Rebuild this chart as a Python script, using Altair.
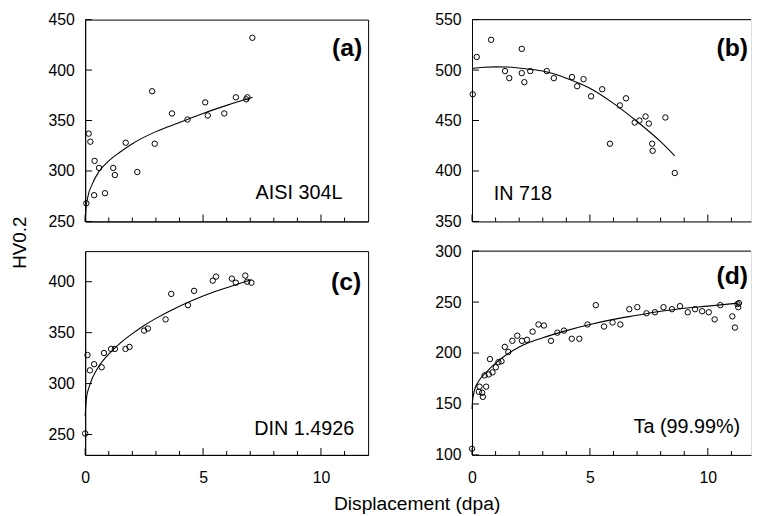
import altair as alt
import pandas as pd

FONT = "Liberation Sans"

# ---------------- data ----------------
# (a) AISI 304L
a_x = [0.05, 0.15, 0.22, 0.38, 0.40, 0.59, 0.84, 1.19, 1.26, 1.72, 2.21, 2.84, 2.95,
       3.68, 4.34, 5.09, 5.20, 5.90, 6.39, 6.83, 6.88, 7.09]
a_y = [268, 337, 329, 276, 310, 303, 278, 303, 296, 328, 299, 379, 327,
       357, 351, 368, 355, 357, 373, 371, 373, 432]
a_fit_x = [0, 0.03, 0.1, 0.3, 0.6, 1, 1.5, 2, 3, 4, 5, 6, 7.1]
a_fit_y = [250, 262, 273, 287, 300, 310, 319, 327, 339, 348, 357, 365, 373]

# (b) IN 718
b_x = [0.03, 0.2, 0.81, 1.4, 1.58, 2.11, 2.11, 2.22, 2.47, 3.17, 3.47, 4.24, 4.46, 4.73,
       5.05, 5.52, 5.85, 6.27, 6.53, 6.9, 7.1, 7.36, 7.5, 7.64, 7.66, 8.2, 8.6]
b_y = [476, 513, 530, 499, 492, 521, 497, 488, 499, 499, 492, 493, 484, 491,
       474, 481, 427, 465, 472, 448, 450, 454, 447, 427, 420, 453, 398]
b_fit_x = [0, 0.5, 1, 1.5, 2, 3, 4, 5, 6, 7, 8, 8.6]
b_fit_y = [501.5, 502.8, 503.2, 503, 502, 499, 492, 482, 467, 449, 429, 415]

# (c) DIN 1.4926
c_x = [0, 0.1, 0.2, 0.38, 0.7, 0.8, 1.1, 1.26, 1.71, 1.88, 2.5, 2.66, 3.41, 3.65,
       4.36, 4.62, 5.41, 5.55, 6.22, 6.39, 6.79, 6.87, 7.05]
c_y = [251, 328, 313, 319, 316, 330, 334, 334, 334, 336, 352, 354, 363, 388,
       377, 391, 401, 405, 403, 399, 406, 400, 399]
c_fit_x = [0, 0.05, 0.2, 0.5, 1, 1.5, 2, 2.5, 3, 4, 5, 6, 7.05]
c_fit_y = [268, 285, 299, 314, 329, 340, 349, 357, 364, 376, 386, 394, 402]

# (d) Ta (99.99%)
d_x = [0, 0.29, 0.32, 0.43, 0.46, 0.6, 0.53, 0.71, 0.76, 0.87,
       1.01, 1.12, 1.25, 1.39, 1.54, 1.71, 1.92, 2.12, 2.33, 2.57,
       2.82, 3.05, 3.35, 3.62, 3.9, 4.23, 4.55, 4.9, 5.25, 5.6,
       5.96, 6.29, 6.67, 7.01, 7.4, 7.76, 8.12, 8.48, 8.82, 9.15,
       9.46, 9.76, 10.04, 10.29, 10.53, 11.04, 11.15, 11.26, 11.29, 11.32]
d_y = [106, 162, 167, 161, 157, 167, 178, 179, 194, 181,
       186, 191, 192, 206, 201, 212, 217, 212, 213, 221,
       228, 227, 212, 220, 222, 214, 214, 228, 247, 226,
       230, 228, 243, 245, 239, 240, 245, 243, 246, 240,
       243, 241, 240, 233, 247, 236, 225, 248, 245, 249]
d_fit_x = [0, 0.02, 0.1, 0.3, 0.6, 1, 1.5, 2, 3, 4, 5, 6, 7, 8, 9, 10, 11.3]
d_fit_y = [145, 152, 163, 173, 181, 190, 199, 206, 215, 222, 228, 233, 237, 241, 244, 246, 249]

# tick positions
x_major = [0.0, 5.0, 10.0]
x_minor = [1.0, 2.0, 3.0, 4.0, 6.0, 7.0, 8.0, 9.0, 11.0]
y_ticks_a = [250.0, 300.0, 350.0, 400.0, 450.0]
y_ticks_b = [350.0, 400.0, 450.0, 500.0, 550.0]
y_ticks_c = [250.0, 300.0, 350.0, 400.0]
y_ticks_d = [100.0, 150.0, 200.0, 250.0, 300.0]


def panel(px, py, fx, fy, xmax, ydom, yticks, w, h, xlabels, letter, lpos,
          mat, mpos, malign, framed, ytitle=None, xtitle=None):
    pts = pd.DataFrame({"x": px, "y": py})
    fit = pd.DataFrame({"x": fx, "y": fy})
    minors = [v for v in x_minor if v <= xmax]
    tmaj = pd.DataFrame({"x": x_major, "y": [float(ydom[0])] * len(x_major)})
    tmin = pd.DataFrame({"x": minors, "y": [float(ydom[0])] * len(minors)})
    tyy = pd.DataFrame({"x": [0.0] * len(yticks), "y": yticks})

    xa = dict(values=x_major, labels=xlabels, labelFlush=False, ticks=False,
              labelPadding=15, grid=False, domainColor="black",
              labelFont=FONT, labelFontSize=16, labelColor="black", title=None)
    if xtitle:
        xa.update(title=xtitle, titleX=335, titleY=55, titleAlign="center",
                  titleBaseline="alphabetic", titleFont=FONT, titleFontSize=19.4,
                  titleFontWeight="normal", titleColor="black")
    ya = dict(values=yticks, ticks=False, labelPadding=11,
              grid=False, domainColor="black", labelFont=FONT,
              labelFontSize=16, labelColor="black", title=None)
    if ytitle:
        ya.update(title=ytitle, titleX=-66.5, titleY=225, titleAngle=270,
                  titleAlign="center", titleBaseline="middle", titleFont=FONT,
                  titleFontSize=19, titleFontWeight="normal", titleColor="black")

    X = alt.X("x:Q", scale=alt.Scale(domain=[0, xmax], nice=False, zero=False),
              axis=alt.Axis(**xa))
    Y = alt.Y("y:Q", scale=alt.Scale(domain=ydom, nice=False, zero=False),
              axis=alt.Axis(**ya))

    points = alt.Chart(pts).mark_point(shape="circle", filled=False, size=30,
                                       color="black", strokeWidth=1, opacity=1
                                       ).encode(x=X, y=Y)
    line = alt.Chart(fit).mark_line(color="black", strokeWidth=1.1,
                                    interpolate="monotone").encode(x=X, y=Y)
    # inward tick marks (drawn through the library's scales)
    xmaj = alt.Chart(tmaj).mark_tick(color="black", size=7, thickness=1,
                                     orient="vertical", opacity=1,
                                     yOffset=-3.5).encode(x=X, y=Y)
    xmin = alt.Chart(tmin).mark_tick(color="black", size=4, thickness=1,
                                     orient="vertical", opacity=1,
                                     yOffset=-2).encode(x=X, y=Y)
    ytk = alt.Chart(tyy).mark_tick(color="black", size=7, thickness=1,
                                   orient="horizontal", opacity=1,
                                   xOffset=3.5).encode(x=X, y=Y)

    lt = alt.Chart(pd.DataFrame({"t": [letter]})).mark_text(
        font=FONT, fontSize=25, fontWeight="bold", align="right", baseline="middle",
        color="black").encode(x=alt.value(lpos[0]), y=alt.value(lpos[1]), text="t:N")
    mt = alt.Chart(pd.DataFrame({"t": [mat]})).mark_text(
        font=FONT, fontSize=20, align=malign, baseline="middle",
        color="black").encode(x=alt.value(mpos[0]), y=alt.value(mpos[1]), text="t:N")
    layers = [line, points, xmaj, xmin, ytk, lt, mt]
    if not framed:
        top = alt.Chart(pd.DataFrame({"t": [0]})).mark_rule(
            color="black", strokeWidth=1).encode(x=alt.value(0), x2=alt.value(w),
                                                  y=alt.value(0))
        layers.append(top)
    ch = alt.layer(*layers).properties(width=w, height=h)
    if framed:
        ch = ch.properties(view=alt.ViewBackground(stroke="black", strokeWidth=1))
    return ch


WL, WR = 286, 282
XL, XR = 12, 282 / (286 / 12)

pa = panel(a_x, a_y, a_fit_x, a_fit_y, XL, [250, 450], y_ticks_a, WL, 204, False,
           "(a)", (280, 29), "AISI 304L", (260, 175), "right", True, ytitle="HV0.2")
pb = panel(b_x, b_y, b_fit_x, b_fit_y, XR, [350, 550], y_ticks_b, WR, 204, False,
           "(b)", (279, 29), "IN 718", (22, 176), "left", False)
pc = panel(c_x, c_y, c_fit_x, c_fit_y, XL, [230, 430], y_ticks_c, WL, 206, True,
           "(c)", (279, 31), "DIN 1.4926", (272, 180), "right", True,
           xtitle="Displacement (dpa)")
pd_ = panel(d_x, d_y, d_fit_x, d_fit_y, XR, [100, 300], y_ticks_d, WR, 206, True,
            "(d)", (279, 25), "Ta (99.99%)", (271, 178), "right", False)

chart = alt.concat(pa, pb, pc, pd_, columns=2, spacing={"row": 30, "column": 105},
                   bounds="flush").properties(
    padding={"left": 2, "top": 0, "right": 0, "bottom": 0}
).configure_view(stroke="transparent").configure(background="white")

chart.save("out.html", embed_options={"renderer": "svg", "actions": False})
